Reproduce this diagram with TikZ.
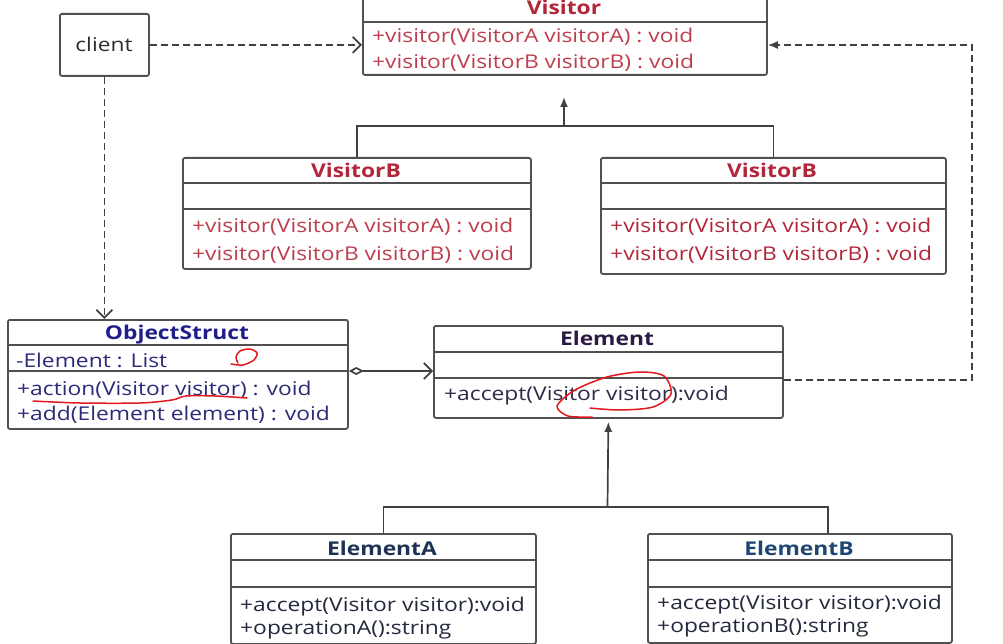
\documentclass[tikz,border=0pt]{standalone}
\usepackage{fontspec}
\setmainfont{Open Sans}[FakeStretch=1.2]
\usetikzlibrary{arrows.meta}
\definecolor{boxc}{RGB}{80,80,80}
\definecolor{linec}{RGB}{65,65,65}
\definecolor{vred}{RGB}{178,38,58}
\definecolor{vredm}{RGB}{190,62,78}
\definecolor{osblue}{RGB}{32,30,140}
\definecolor{osbluem}{RGB}{45,42,120}
\definecolor{elpur}{RGB}{45,25,70}
\definecolor{elpurm}{RGB}{50,42,70}
\definecolor{eatitle}{RGB}{30,50,85}
\definecolor{ebtitle}{RGB}{30,70,115}
\definecolor{eam}{RGB}{35,40,60}
\definecolor{clientc}{RGB}{45,45,45}
\definecolor{annot}{RGB}{225,25,30}
\begin{document}
\begin{tikzpicture}[x=1pt,y=-1pt,
  box/.style={draw=boxc, line width=1.8pt, rounded corners=2pt, fill=white, inner sep=0pt, anchor=north west},
  sepl/.style={draw=boxc, line width=2pt},
  mt/.style={font=\fontsize{19}{22}\selectfont, inner sep=0pt, anchor=base west},
  tt/.style={font=\fontsize{19}{22}\selectfont\bfseries, inner sep=0pt, anchor=base},
  conn/.style={draw=linec, line width=1.7pt},
  dep/.style={conn, dash pattern=on 7pt off 4pt, -{Straight Barb[length=8pt,width=16pt]}},
  ret/.style={conn, dash pattern=on 7pt off 4pt, -{Latex[length=10pt,width=8pt]}},
  gen/.style={conn},
  agg/.style={conn, {Diamond[open,length=15pt,width=8pt]}-{Straight Barb[length=8pt,width=16pt]}},
  ann/.style={draw=annot, line width=1.5pt, line cap=round, line join=round}
]
\clip (0,0) rectangle (1003,644);
\fill[white] (0,0) rectangle (1003,644);

% ---- boxes ----
\node[box, minimum width=89pt, minimum height=62pt] (client) at (59,13) {};
\node[box, minimum width=404pt, minimum height=82pt] (visitor) at (362,-8) {};
\node[box, minimum width=348pt, minimum height=111pt] (vb1) at (182,157) {};
\node[box, minimum width=345pt, minimum height=116pt] (vb2) at (600,157) {};
\node[box, minimum width=340pt, minimum height=109pt] (os) at (7,319) {};
\node[box, minimum width=349pt, minimum height=92pt] (el) at (433,325) {};
\node[box, minimum width=305pt, minimum height=110pt] (ea) at (230,533) {};
\node[box, minimum width=304pt, minimum height=109pt] (eb) at (647,533) {};

% ---- separators ----
\draw[sepl] (362,22) -- (766,22);
\draw[sepl] (182,183) -- (530,183);
\draw[sepl] (182,209) -- (530,209);
\draw[sepl] (600,183) -- (945,183);
\draw[sepl] (600,209) -- (945,209);
\draw[sepl] (7,345) -- (347,345);
\draw[sepl] (7,371) -- (347,371);
\draw[sepl] (433,352) -- (782,352);
\draw[sepl] (433,378) -- (782,378);
\draw[sepl] (230,560) -- (535,560);
\draw[sepl] (230,587) -- (535,587);
\draw[sepl] (647,560) -- (951,560);
\draw[sepl] (647,587) -- (951,587);

% ---- texts ----
\node[mt, anchor=base, text=clientc] (clientt) at (104,52) {client};

\node[tt, text=vred] (vist) at (564,15) {Visitor};
\node[mt, text=vredm] (vism1) at (372,43) {+visitor(VisitorA visitorA) : void};
\node[mt, text=vredm] (vism2) at (372,69) {+visitor(VisitorB visitorB) : void};

\node[tt, text=vred] (vb1t) at (356,178) {VisitorB};
\node[mt, text=vredm] (vb1m1) at (192,233) {+visitor(VisitorA visitorA) : void};
\node[mt, text=vredm] (vb1m2) at (192,260) {+visitor(VisitorB visitorB) : void};

\node[tt, text=vred] (vb2t) at (772,178) {VisitorB};
\node[mt, text=vred] (vb2m1) at (610,233) {+visitor(VisitorA visitorA) : void};
\node[mt, text=vred] (vb2m2) at (610,260) {+visitor(VisitorB visitorB) : void};

\node[tt, text=osblue] (ost) at (177,339) {ObjectStruct};
\node[mt, text=osbluem] (osa) at (16,367) {-Element : List};
\node[mt, text=osbluem] (osm1) at (17,395) {+action(Visitor visitor) : void};
\node[mt, text=osbluem] (osm2) at (17,420) {+add(Element element) : void};

\node[tt, text=elpur] (elt) at (607,345) {Element};
\node[mt, text=elpurm] (elm1) at (444,400) {+accept(Visitor visitor):void};

\node[tt, text=eatitle] (eat) at (382,555) {ElementA};
\node[mt, text=eam] (eam1) at (240,611) {+accept(Visitor visitor):void};
\node[mt, text=eam] (eam2) at (240,634) {+operationA():string};

\node[tt, text=ebtitle] (ebt) at (799,555) {ElementB};
\node[mt, text=eam] (ebm1) at (657,609) {+accept(Visitor visitor):void};
\node[mt, text=eam] (ebm2) at (657,632) {+operationB():string};

% ---- connectors ----
\draw[dep] (client.east) -- (visitor.west |- client.east);
\draw[dep] (client.south) -- (client.south |- os.north);

\coordinate (vjoin) at (564,126);
\coordinate (vtip) at (564,97);
\draw[gen] (vb1.north) |- (vjoin) -| (vb2.north);
\draw[gen, -{Latex[length=10pt,width=8pt]}] (vjoin) -- (vtip);

\coordinate (ejoin) at (607.5,507);
\coordinate (ebin) at (828,533);
\draw[gen] (ea.north) |- (ejoin) -| (ebin);
\draw[gen, -{Latex[length=10pt,width=8pt]}, shorten >=3pt] (ejoin) -- (el.south);

\draw[agg] (os.east |- 0,371) -- (el.west |- 0,371);

\coordinate (rc1) at (972,380);
\coordinate (rc2) at (972,45);
\draw[ret] (el.east |- rc1) -- (rc1) -- (rc2) -- (rc2 -| visitor.east);

% ---- red hand annotations ----
\draw[ann] plot[smooth] coordinates {(231,364) (243,365) (254,360) (257,353) (250,349) (240,351) (236,357) (238,363)};
\draw[ann] plot[smooth] coordinates {(33,401) (80,403) (140,403) (172,400) (186,396) (215,396) (247,398)};
\draw[ann] plot[smooth] coordinates {(590,408) (620,410) (653,407) (671,394) (664,376) (640,372) (607,377) (575,390) (557,406) (568,416) (592,417)};
\end{tikzpicture}
\end{document}
